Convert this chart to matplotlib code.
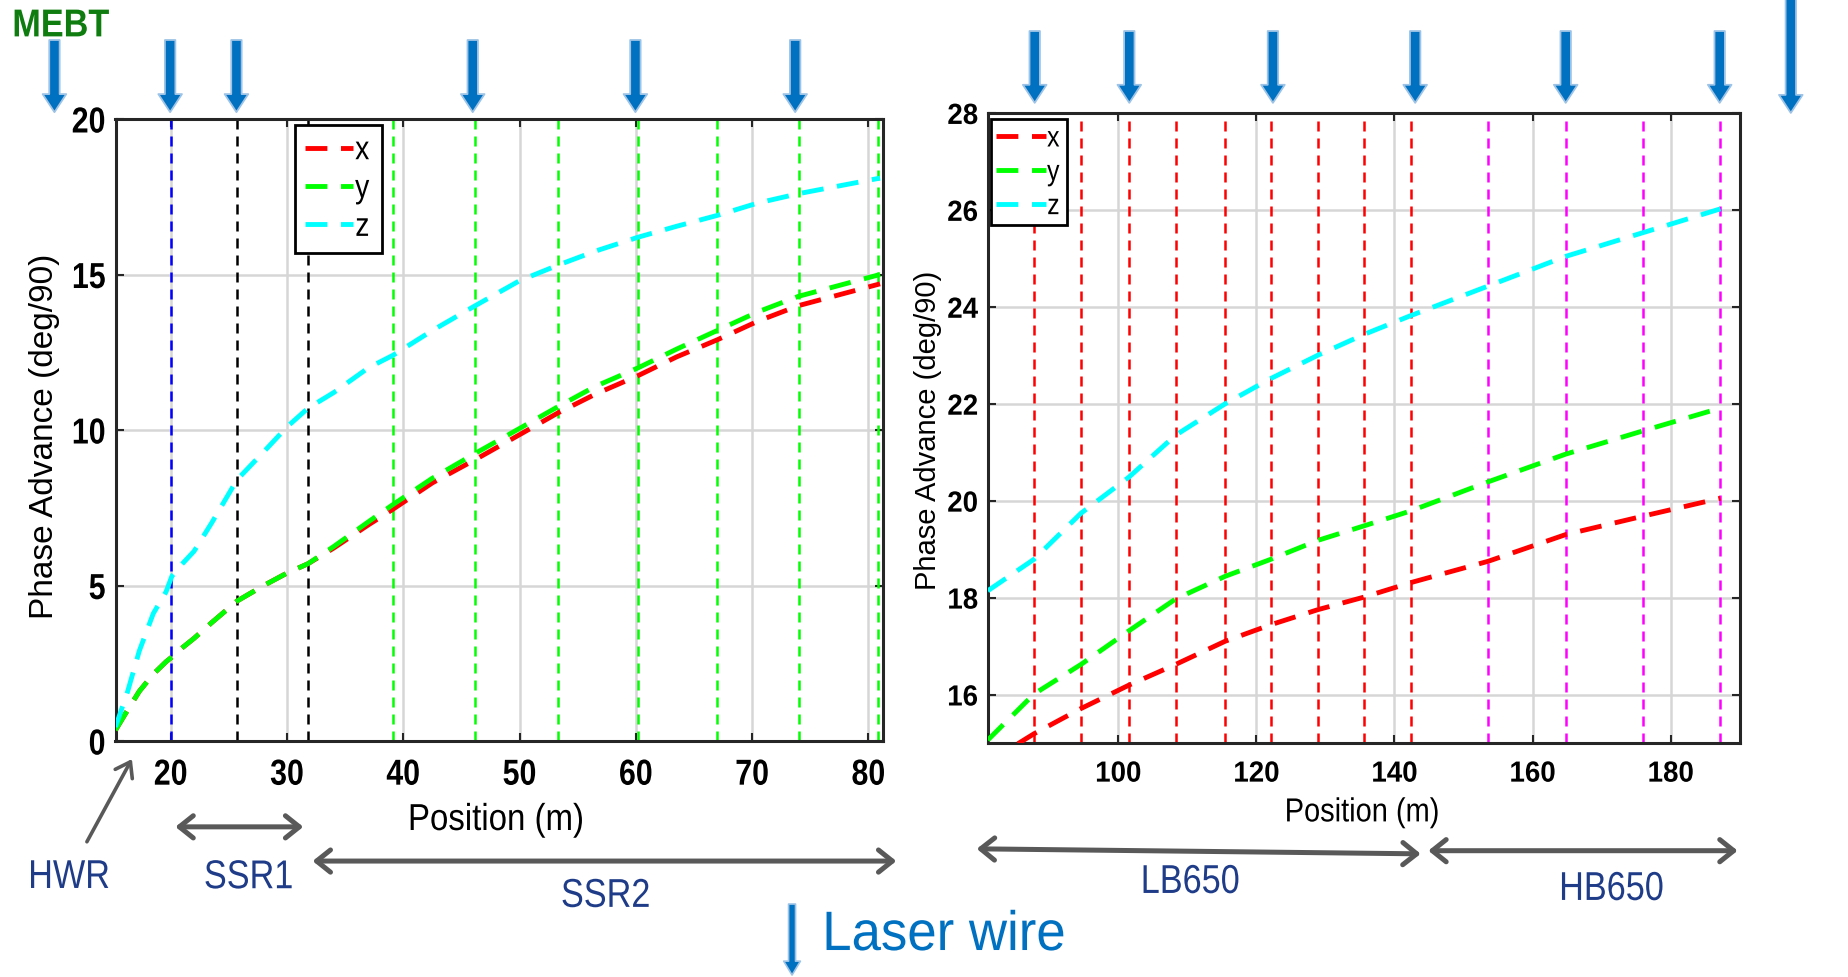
import matplotlib
matplotlib.use('Agg')
import matplotlib.pyplot as plt
from matplotlib.patches import FancyArrowPatch, ArrowStyle
from matplotlib.patheffects import AbstractPathEffect
from matplotlib.transforms import Affine2D

REG = 'Liberation Sans'
plt.rcParams['font.family'] = [REG, 'DejaVu Sans']


class Condense(AbstractPathEffect):
    """Draw text horizontally condensed (like a narrow font)."""

    def __init__(self, sx=0.85, anchor='center'):
        super().__init__()
        self.sx = sx
        self.anchor = anchor

    def draw_path(self, renderer, gc, tpath, affine, rgbFace=None):
        ext = tpath.get_extents()
        if self.anchor == 'left':
            cx = ext.x0
        elif self.anchor == 'right':
            cx = ext.x1
        else:
            cx = 0.5 * (ext.x0 + ext.x1)
        t = Affine2D().translate(-cx, 0).scale(self.sx, 1.0).translate(cx, 0) + affine
        renderer.draw_path(gc, tpath, t, rgbFace)


# ---------------- data ----------------
left_pos = [15.25, 16.3, 17.3, 18.5, 19.6, 20.1, 21.0, 22.0, 23.5, 25.7, 28.0, 30.0, 31.8,
            34.0, 37.0, 39.1, 42.5, 46.2, 50.0, 53.3, 56.5, 60.2, 63.5, 67.0, 70.5, 74.0, 77.5, 81.0]
left_x = [0.35, 1.0, 1.6, 2.15, 2.55, 2.7, 3.0, 3.3, 3.8, 4.5, 5.0, 5.4, 5.7,
          6.2, 6.95, 7.45, 8.3, 9.05, 9.85, 10.55, 11.15, 11.75, 12.35, 12.9, 13.5, 14.0, 14.35, 14.7]
left_y = [0.35, 1.0, 1.6, 2.15, 2.55, 2.7, 3.0, 3.3, 3.8, 4.5, 5.0, 5.4, 5.7,
          6.25, 7.05, 7.6, 8.45, 9.25, 10.05, 10.75, 11.4, 12.0, 12.6, 13.2, 13.8, 14.3, 14.65, 15.0]
left_z = [0.45, 1.6, 2.9, 4.1, 4.8, 5.3, 5.7, 6.1, 7.0, 8.4, 9.3, 10.1, 10.7,
          11.2, 12.0, 12.4, 13.2, 14.0, 14.8, 15.3, 15.75, 16.2, 16.55, 16.9, 17.3, 17.6, 17.85, 18.1]

right_pos = [81.1, 87.8, 94.6, 101.5, 108.3, 115.5, 122.1, 128.9, 135.6, 142.4, 153.6, 164.8, 176.0, 187.2]
right_x = [14.6, 15.19, 15.71, 16.19, 16.62, 17.10, 17.44, 17.75, 18.01, 18.31, 18.75, 19.3, 19.68, 20.05]
right_y = [15.06, 16.01, 16.62, 17.31, 17.97, 18.44, 18.79, 19.18, 19.48, 19.79, 20.39, 20.96, 21.44, 21.91]
right_z = [18.14, 18.79, 19.74, 20.48, 21.35, 22.0, 22.52, 23.0, 23.43, 23.82, 24.43, 25.04, 25.53, 26.02]

left_lines_blue = [20.0]
left_lines_black = [25.7, 31.8]
left_lines_green = [39.1, 46.2, 53.3, 60.2, 67.0, 74.0, 80.8]
right_lines_red = [87.8, 94.6, 101.5, 108.3, 115.5, 122.1, 128.9, 135.6, 142.4]
right_lines_magenta = [153.6, 164.8, 176.0, 187.2]

left_xticks = [20, 30, 40, 50, 60, 70, 80]
left_yticks = [0, 5, 10, 15, 20]
right_xticks = [100, 120, 140, 160, 180]
right_yticks = [16, 18, 20, 22, 24, 26, 28]

laser_left = [10.0, 19.95, 25.65, 45.97, 59.96, 73.7]
laser_right = [87.9, 101.6, 122.4, 143.0, 164.8, 187.1]
laser_far = [197.4]

series_labels = ['x', 'y', 'z']
series_colors = ['#FF0000', '#00FF00', '#00FFFF']

sections_left = [('SSR1', 20.4, 31.4), ('SSR2', 32.2, 82.4)]
sections_right = [('LB650', 79.5, 143.8), ('HB650', 144.9, 189.7)]

# ---------------- figure ----------------
fig = plt.figure(figsize=(18.48, 9.78), dpi=100)
axL = fig.add_axes([0.0625, 0.2413, 0.4153, 0.636])
axR = fig.add_axes([0.5345, 0.2393, 0.4069, 0.6442])

CURVE_LS = (0, (4.5, 2.8))
VLINE_LS = (0, (4.0, 2.8))


def style_axes(ax, xticks, yticks, xlim, ylim, tick_fs, pad_y, pad_x, sx):
    ax.set_xlim(*xlim)
    ax.set_ylim(*ylim)
    ax.set_xticks(xticks)
    ax.set_yticks(yticks)
    ax.grid(True, color='#D6D6D6', lw=1.8)
    ax.set_axisbelow(True)
    for s in ax.spines.values():
        s.set_linewidth(2.2)
        s.set_color('#262626')
    ax.tick_params(direction='in', length=6, width=1.5, top=True, right=True,
                   labelsize=tick_fs, colors='#262626', labelcolor='black')
    ax.tick_params(axis='y', pad=pad_y)
    ax.tick_params(axis='x', pad=pad_x)
    for lab in ax.get_xticklabels():
        lab.set_fontweight('bold')
        lab.set_path_effects([Condense(sx, 'center')])
    for lab in ax.get_yticklabels():
        lab.set_fontweight('bold')
        lab.set_path_effects([Condense(sx, 'right')])


style_axes(axL, left_xticks, left_yticks, (15.25, 81.25), (0, 20), 26, 7, 12, 0.84)
style_axes(axR, right_xticks, right_yticks, (81.1, 190.0), (15, 28), 21, 7, 12, 0.95)

for xv in left_lines_blue:
    axL.axvline(xv, color='#0000FF', ls=VLINE_LS, lw=1.8, zorder=1.5)
for xv in left_lines_black:
    axL.axvline(xv, color='#000000', ls=VLINE_LS, lw=1.8, zorder=1.5)
for xv in left_lines_green:
    axL.axvline(xv, color='#00FF00', ls=VLINE_LS, lw=1.8, zorder=1.5)
for xv in right_lines_red:
    axR.axvline(xv, color='#FF0000', ls=VLINE_LS, lw=1.8, zorder=1.5)
for xv in right_lines_magenta:
    axR.axvline(xv, color='#FF00FF', ls=VLINE_LS, lw=1.8, zorder=1.5)

for vals, lab, c in zip([left_x, left_y, left_z], series_labels, series_colors):
    axL.plot(left_pos, vals, color=c, ls=CURVE_LS, lw=3.5, label=lab, zorder=3)
for vals, lab, c in zip([right_x, right_y, right_z], series_labels, series_colors):
    axR.plot(right_pos, vals, color=c, ls=CURVE_LS, lw=3.5, label=lab, zorder=3)


def add_legend(ax, anchor, fs, hl, ls, bp):
    leg = ax.legend(loc='upper left', bbox_to_anchor=anchor, fontsize=fs, frameon=True,
                    fancybox=False, edgecolor='black', framealpha=1, handlelength=hl,
                    handletextpad=0.05, labelspacing=ls, borderpad=bp, borderaxespad=0)
    leg.get_frame().set_linewidth(2.0)
    leg.set_zorder(10)
    for t in leg.get_texts():
        t.set_path_effects([Condense(0.85, 'left')])
    return leg


add_legend(axL, (0.234, 0.99), 24, 1.45, 0.22, 0.3)
add_legend(axR, (0.004, 0.99), 21, 1.7, 0.2, 0.18)

# labels
axL.set_ylabel('Phase Advance (deg/90)', fontsize=24)
axL.yaxis.set_label_coords(-0.093, 0.492)
axL.yaxis.label.set_va('center')
axR.set_ylabel('Phase Advance (deg/90)', fontsize=21)
axR.yaxis.set_label_coords(-0.080, 0.498)
axR.yaxis.label.set_va('center')
axL.set_xlabel('Position (m)', fontsize=27)
axL.xaxis.set_label_coords(0.496, -0.127)
axL.xaxis.label.set_va('center')
axL.xaxis.label.set_path_effects([Condense(0.88, 'center')])
axR.set_xlabel('Position (m)', fontsize=24)
axR.xaxis.set_label_coords(0.498, -0.111)
axR.xaxis.label.set_va('center')
axR.xaxis.label.set_path_effects([Condense(0.87, 'center')])

# ---------------- annotations ----------------
BLUE = '#0070C0'
BLUE_EDGE = '#9DC3E6'
NAVY = '#1F3C88'
GRAY = '#595959'
top_style = ArrowStyle('simple', head_length=13, head_width=17, tail_width=7.5)
NARROW_C = [Condense(0.85, 'center')]


def top_arrow(ax, xv, y_tip, y_tail):
    tr = ax.get_xaxis_transform()
    ax.annotate('', xy=(xv, y_tip), xytext=(xv, y_tail), xycoords=tr, textcoords=tr,
                arrowprops=dict(arrowstyle=top_style, mutation_scale=1, fc=BLUE, ec=BLUE_EDGE,
                                lw=1.3, shrinkA=0, shrinkB=0),
                annotation_clip=False, zorder=20)


for xv in laser_left:
    top_arrow(axL, xv, 1.011, 1.127)
for xv in laser_right:
    top_arrow(axR, xv, 1.016, 1.130)
for xv in laser_far:
    top_arrow(axR, xv, 1.0, 1.19)


def dbl_arrow(ax, x0, x1, y0, y1):
    tr = ax.get_xaxis_transform()
    ax.annotate('', xy=(x1, y1), xytext=(x0, y0), xycoords=tr, textcoords=tr,
                arrowprops=dict(arrowstyle='<->,head_length=0.5,head_width=0.4', mutation_scale=20,
                                color=GRAY, lw=3.6, shrinkA=0, shrinkB=0),
                annotation_clip=False)


def sec_label(ax, xv, yv, s):
    ax.text(xv, yv, s, transform=ax.get_xaxis_transform(), ha='center', va='center',
            fontsize=29, color=NAVY, clip_on=False, path_effects=NARROW_C)


# left sections
dbl_arrow(axL, sections_left[0][1], sections_left[0][2], -0.138, -0.138)
sec_label(axL, 26.7, -0.219, sections_left[0][0])
dbl_arrow(axL, sections_left[1][1], sections_left[1][2], -0.193, -0.193)
sec_label(axL, 57.4, -0.249, sections_left[1][0])

# HWR
trL = axL.get_xaxis_transform()
axL.annotate('', xy=(16.66, -0.029), xytext=(12.79, -0.162), xycoords=trL, textcoords=trL,
             arrowprops=dict(arrowstyle='->,head_length=0.5,head_width=0.35', mutation_scale=20,
                             color=GRAY, lw=2.6, shrinkA=0, shrinkB=0),
             annotation_clip=False)
sec_label(axL, 11.24, -0.2186, 'HWR')

# right sections
dbl_arrow(axR, sections_right[0][1], sections_right[0][2], -0.168, -0.176)
sec_label(axR, 110.4, -0.2206, sections_right[0][0])
dbl_arrow(axR, sections_right[1][1], sections_right[1][2], -0.171, -0.171)
sec_label(axR, 171.4, -0.2317, sections_right[1][0])

# MEBT label
fig.text(0.0065, 0.972, 'MEBT', ha='left', va='center', fontsize=28, fontweight='bold',
         color='#0E7C0E', path_effects=[Condense(0.88, 'left')])

# Laser wire key
key_style = ArrowStyle('simple', head_length=10, head_width=12, tail_width=5)
fig.add_artist(FancyArrowPatch((0.4286, 0.0746), (0.4286, 0.002), transform=fig.transFigure,
                               arrowstyle=key_style, mutation_scale=1, fc=BLUE, ec=BLUE_EDGE,
                               lw=1.2, shrinkA=0, shrinkB=0))
fig.text(0.4448, 0.0419, 'Laser wire', ha='left', va='center', fontsize=40, color=BLUE,
         path_effects=[Condense(0.95, 'left')])

fig.savefig('out.png', dpi=100)
